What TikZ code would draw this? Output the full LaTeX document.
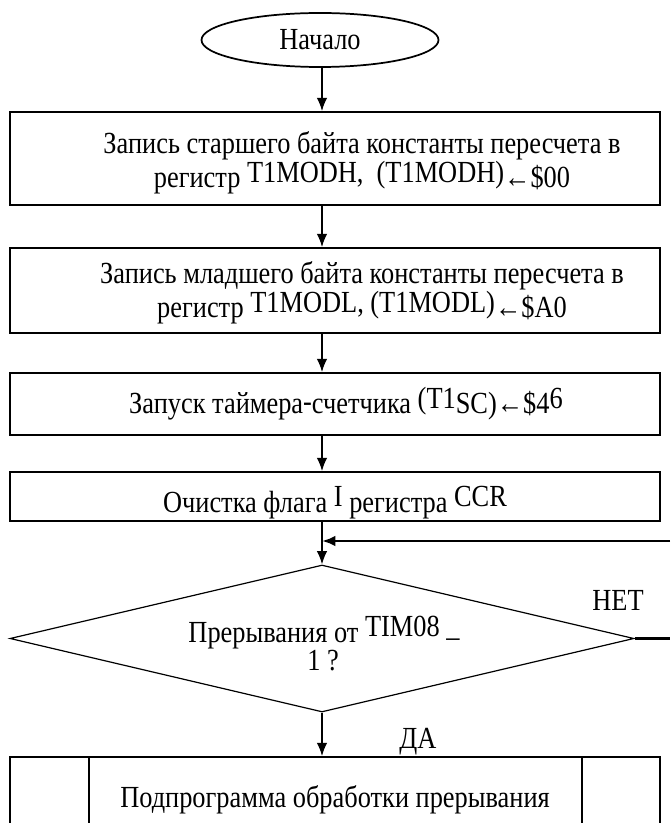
\documentclass[tikz,border=0pt]{standalone}
\usepackage{fontspec}
\setmainfont{Liberation Serif}[FakeStretch=0.86]
\usetikzlibrary{shapes.geometric,calc,arrows.meta}
\newcommand
    {\hochtext}[2][3.5pt]
    {%
        \raisebox{#1}{#2}%
    }

\begin{document}
\begin{tikzpicture}[x=0.75pt,y=-0.75pt,line width=1.3pt,
    font=\fontsize{23pt}{21pt}\selectfont,
    >={Latex[length=10pt,width=8pt]}]
        \clip (0,0) rectangle (670,823);
        \coordinate (trunk) at (322,0);

        % 1. Start
        \node (start) at (320,40) [ellipse,minimum width=177.75pt,minimum height=40.5pt,inner sep=0pt,draw] {Начало};

        % 2. Process blocks (empty frames, texts placed inside)
        \node (b1) at (335,158.5) [minimum width=487.5pt,minimum height=69.75pt,draw] {};
        \node (t1) at ($(b1.center)+(27,4)$) [align=center,inner sep=1pt] {Запись старшего байта константы пересчета в\\регистр \hochtext{T1MODH,\ \ (T1MODH)}←\$00};

        \node (b2) at (335,290.5) [minimum width=487.5pt,minimum height=63.75pt,draw] {};
        \node (t2) at ($(b2.center)+(27,2)$) [align=center,inner sep=1pt] {Запись младшего байта константы пересчета в\\регистр \hochtext{T1MODL, (T1MODL)}←\$A0};

        \node (b3) at (335,404) [minimum width=487.5pt,minimum height=46.5pt,draw] {};
        \node (t3) at ($(b3.center)+(11,0)$) [inner sep=1pt] {Запуск таймера\hochtext[2pt]{-}счетчика \hochtext[4pt]{(T1}SC)←\$4\hochtext[4pt]{6}};

        \node (b4) at (335,496.5) [minimum width=487.5pt,minimum height=36.75pt,draw] {};
        \node (t4) at ($(b4.center)+(0,6)$) [inner sep=1pt] {Очистка флага \hochtext[5pt]{I} регистра \hochtext[5pt]{CCR}};

        % 3. Decision
        \node (dec) at (322,638.5) [diamond,minimum width=468pt,minimum height=110.25pt,inner sep=0pt,line width=0.9pt,draw] {};
        \node (td1) at ($(dec.center)+(2,-6)$) [inner sep=1pt] {Прерывания от \hochtext[5pt]{TIM08 \_}};
        \node (td2) at ($(dec.center)+(1,22)$) [inner sep=1pt] {1 ?};

        % 4. Subroutine block (runs past the lower edge)
        \node (sub) at (335,812) [minimum width=487.5pt,minimum height=82.5pt,draw] {};
        \node (tsub) at ($(sub.north)+(0,44)$) [inner sep=1pt] {Подпрограмма обработки прерывания};
        \draw[line width=1.7pt] ($(sub.north west)+(80,0)$) -- ($(sub.south west)+(80,0)$);
        \draw[line width=1.7pt] ($(sub.north east)+(-79,0)$) -- ($(sub.south east)+(-79,0)$);

        % 5. Connections
        \draw[->] (trunk |- start.south) -- (trunk |- b1.north);
        \draw[->] (trunk |- b1.south) -- (trunk |- b2.north);
        \draw[->] (trunk |- b2.south) -- (trunk |- b3.north);
        \draw[->] (trunk |- b3.south) -- (trunk |- b4.north);
        \draw[->] (trunk |- b4.south) -- (dec.north);
        \draw[->] (dec.south) -- (trunk |- sub.north);

        % Loop back from the right edge (NO branch)
        \coordinate (loopR) at (670,541);
        \draw[line width=2.2pt] (dec.east) -- (dec.east -| loopR);
        \draw[->,line width=2.2pt] (loopR) -- (trunk |- loopR);

        % 6. Branch labels
        \node (no) at (618,600) [inner sep=1pt] {НЕТ};
        \node (yes) at (418,742) [inner sep=1pt] {ДА};
\end{tikzpicture}
\end{document}
